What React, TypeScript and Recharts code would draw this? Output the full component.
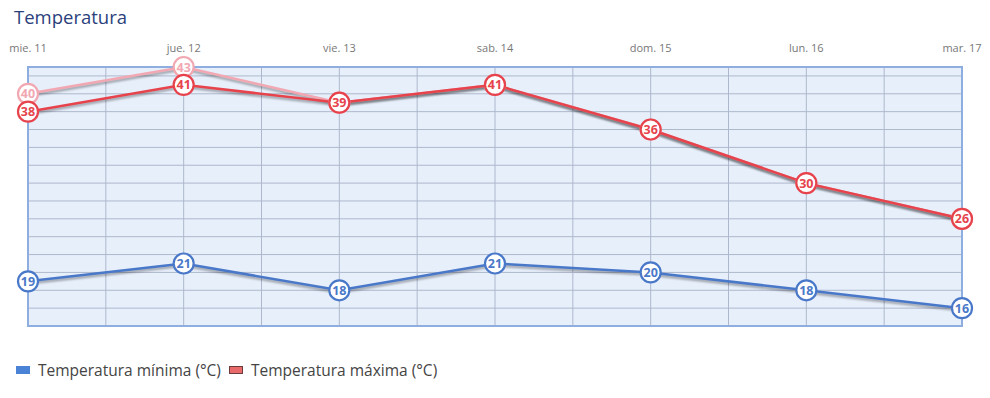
import React from 'react'
import { LineChart, Line, XAxis, YAxis, CartesianGrid, ReferenceArea } from 'recharts'

const days = ['mie. 11', 'jue. 12', 'vie. 13', 'sab. 14', 'dom. 15', 'lun. 16', 'mar. 17']
const tempMin = [19, 21, 18, 21, 20, 18, 16]
const tempMax = [38, 41, 39, 41, 36, 30, 26]
const tempMaxPrev = [40, 43, 39, 41, 36, 30, 26]

const xTicks = [0, 0.5, 1, 1.5, 2, 2.5, 3, 3.5, 4, 4.5, 5, 5.5, 6]
const yTicks = [14, 16, 18, 20, 22, 24, 26, 28, 30, 32, 34, 36, 38, 40, 42]

const BLUE = '#4a78c9'
const RED = '#e6434d'
const PINK = '#f2a8b2'

const data = days.map((d, i) => ({
    i,
    day: d,
    min: tempMin[i],
    max: tempMax[i],
    prev: tempMaxPrev[i],
}))

const makeDot = (color: string) => (props: any) => {
    const { cx, cy, value, index } = props
    if (cx == null || cy == null) return <g key={index} />
    return (
        <g key={index}>
            <circle cx={cx} cy={cy} r={10} fill="#fff" stroke={color} strokeWidth={2.2} />
            <text
                x={cx}
                y={cy}
                dy={4.5}
                textAnchor="middle"
                fontSize={12.5}
                fontWeight={700}
                fill={color}
            >
                {value}
            </text>
        </g>
    )
}

const LegendItem = ({ color, border, label }: { color: string; border?: string; label: string }) => (
    <span style={{ display: 'inline-flex', alignItems: 'center', marginRight: 8 }}>
        <span
            style={{
                display: 'inline-block',
                width: 14,
                height: 8,
                background: color,
                border: border ? `1px solid ${border}` : 'none',
                boxSizing: 'border-box',
                marginRight: 8,
            }}
        />
        <span>{label}</span>
    </span>
)

export default function App() {
    return (
        <div style={{ position: 'relative', width: 990, height: 398, fontFamily: '"Open Sans", sans-serif', background: '#fff' }}>
            <style>{`
                body { margin: 0; }
                .recharts-line-curve { filter: drop-shadow(0px 2px 1px rgba(0,0,0,0.35)); }
            `}</style>
            <div style={{ position: 'absolute', left: 14, top: 4, fontSize: 18.5, color: '#2b3f7c' }}>
                Temperatura
            </div>
            <div style={{ position: 'absolute', top: 0, left: 0 }}>
                <LineChart width={990} height={340} data={data} margin={{ top: 37, right: 28, bottom: 14, left: 28 }}>
                    <CartesianGrid stroke="#aeb8cc" strokeWidth={1} fill="#e7effb" fillOpacity={1} />
                    <XAxis
                        dataKey="i"
                        type="number"
                        orientation="top"
                        domain={[0, 6]}
                        ticks={xTicks}
                        interval={0}
                        tickFormatter={(v: number) => (Number.isInteger(v) ? days[v] : '')}
                        axisLine={false}
                        tickLine={false}
                        tickSize={6}
                        tickMargin={9}
                        tick={{ fontSize: 11, fill: '#777' }}
                        height={30}
                    />
                    <YAxis hide domain={[14, 43]} ticks={yTicks} interval={0} type="number" />
                    <ReferenceArea x1={0} x2={6} y1={14} y2={43} fill="none" stroke="#8eaee0" strokeWidth={2} ifOverflow="visible" />
                    <Line
                        dataKey="prev"
                        stroke={PINK}
                        strokeWidth={2.5}
                        dot={makeDot(PINK)}
                        activeDot={false}
                        isAnimationActive={false}
                        legendType="none"
                    />
                    <Line
                        dataKey="max"
                        stroke={RED}
                        strokeWidth={2.5}
                        dot={makeDot(RED)}
                        activeDot={false}
                        isAnimationActive={false}
                    />
                    <Line
                        dataKey="min"
                        stroke={BLUE}
                        strokeWidth={2.5}
                        dot={makeDot(BLUE)}
                        activeDot={false}
                        isAnimationActive={false}
                    />
                </LineChart>
            </div>
            <div style={{ position: 'absolute', left: 16, top: 359, fontSize: 15.5, color: '#444', display: 'flex' }}>
                <LegendItem color="#4a82d6" label="Temperatura mínima (°C)" />
                <LegendItem color="#e86a6a" border="#6b3a3a" label="Temperatura máxima (°C)" />
            </div>
        </div>
    )
}
